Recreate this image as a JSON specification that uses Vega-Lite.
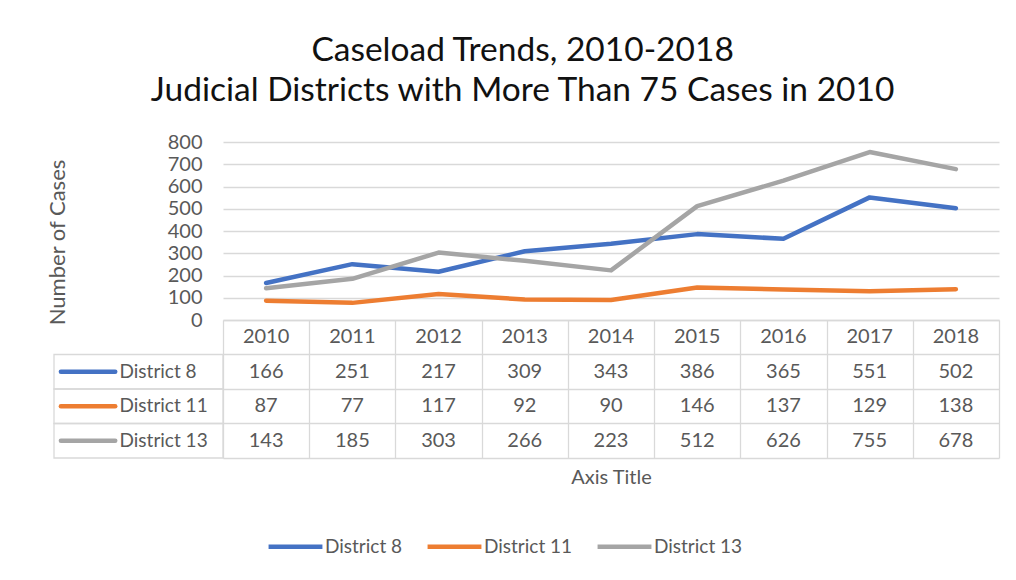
{
  "$schema": "https://vega.github.io/schema/vega-lite/v6.json",
  "padding": {"left": 46, "top": 33, "right": 10, "bottom": 10},
  "background": "white",
  "bounds": "flush",
  "title": {
    "text": ["Caseload Trends, 2010-2018", "Judicial Districts with More Than 75 Cases in 2010"],
    "font": "Lato", "fontSize": 33.5, "fontWeight": "normal", "color": "#111111",
    "lineHeight": 40, "anchor": "middle", "offset": 24
  },
  "config": {
    "font": "Lato",
    "view": {"stroke": null},
    "concat": {"spacing": 0}
  },
  "datasets": {
    "cases": [
      {"series": "District 8", "year": 2010, "cases": 166},
      {"series": "District 8", "year": 2011, "cases": 251},
      {"series": "District 8", "year": 2012, "cases": 217},
      {"series": "District 8", "year": 2013, "cases": 309},
      {"series": "District 8", "year": 2014, "cases": 343},
      {"series": "District 8", "year": 2015, "cases": 386},
      {"series": "District 8", "year": 2016, "cases": 365},
      {"series": "District 8", "year": 2017, "cases": 551},
      {"series": "District 8", "year": 2018, "cases": 502},
      {"series": "District 11", "year": 2010, "cases": 87},
      {"series": "District 11", "year": 2011, "cases": 77},
      {"series": "District 11", "year": 2012, "cases": 117},
      {"series": "District 11", "year": 2013, "cases": 92},
      {"series": "District 11", "year": 2014, "cases": 90},
      {"series": "District 11", "year": 2015, "cases": 146},
      {"series": "District 11", "year": 2016, "cases": 137},
      {"series": "District 11", "year": 2017, "cases": 129},
      {"series": "District 11", "year": 2018, "cases": 138},
      {"series": "District 13", "year": 2010, "cases": 143},
      {"series": "District 13", "year": 2011, "cases": 185},
      {"series": "District 13", "year": 2012, "cases": 303},
      {"series": "District 13", "year": 2013, "cases": 266},
      {"series": "District 13", "year": 2014, "cases": 223},
      {"series": "District 13", "year": 2015, "cases": 512},
      {"series": "District 13", "year": 2016, "cases": 626},
      {"series": "District 13", "year": 2017, "cases": 755},
      {"series": "District 13", "year": 2018, "cases": 678}
    ]
  },
  "vconcat": [
    {
      "width": 776,
      "height": 178,
      "data": {"name": "cases"},
      "mark": {"type": "line", "strokeWidth": 4.5, "strokeCap": "round", "strokeJoin": "round"},
      "encoding": {
        "x": {"field": "year", "type": "ordinal", "scale": {"type": "point", "padding": 0.5}, "axis": null},
        "y": {
          "field": "cases", "type": "quantitative",
          "scale": {"domain": [0, 800]},
          "axis": {
            "values": [0, 100, 200, 300, 400, 500, 600, 700, 800],
            "grid": true, "gridColor": "#d9d9d9", "gridWidth": 1.3,
            "domain": false, "ticks": false,
            "labelFontSize": 20, "labelColor": "#595959", "labelPadding": 21,
            "title": "Number of Cases", "titleFontSize": 22, "titleFontWeight": "normal",
            "titleColor": "#595959", "titlePadding": 98, "titleY": 100
          }
        },
        "color": {
          "field": "series", "type": "nominal",
          "scale": {"domain": ["District 8", "District 11", "District 13"], "range": ["#4472c4", "#ed7d31", "#a5a5a5"]},
          "legend": {
            "orient": "none", "legendX": 43, "legendY": 375,
            "direction": "horizontal", "title": null,
            "symbolType": "stroke", "symbolStrokeWidth": 4.5, "symbolSize": 2900,
            "labelFontSize": 19, "labelColor": "#595959", "labelOffset": 0,
            "columnPadding": 15
          }
        }
      }
    },
    {
      "width": 776,
      "height": 138,
      "data": {"name": "cases"},
      "encoding": {
        "y": {
          "field": "series", "type": "nominal",
          "scale": {"type": "band", "domain": ["Year", "District 8", "District 11", "District 13"], "paddingInner": 0, "paddingOuter": 0},
          "axis": {"labels": false, "ticks": false, "domain": false, "title": null, "grid": true, "gridColor": "#d9d9d9", "gridWidth": 1.3, "bandPosition": 0}
        }
      },
      "layer": [
        {
          "mark": {"type": "text", "fontSize": 20, "color": "#595959"},
          "encoding": {
            "x": {
              "field": "year", "type": "quantitative",
              "scale": {"domain": [2009.5, 2018.5], "nice": false, "zero": false},
              "axis": {
                "values": [2009.5, 2010.5, 2011.5, 2012.5, 2013.5, 2014.5, 2015.5, 2016.5, 2017.5, 2018.5],
                "grid": true, "gridColor": "#d9d9d9", "gridWidth": 1.3,
                "labels": false, "ticks": false,
                "domain": true, "domainColor": "#d9d9d9", "domainWidth": 1.3,
                "title": "Axis Title", "titleFontSize": 20, "titleFontWeight": "normal",
                "titleColor": "#595959", "titlePadding": 9
              }
            },
            "text": {"field": "cases", "type": "quantitative"}
          }
        },
        {
          "transform": [{"filter": "datum.series === 'District 8'"}],
          "mark": {"type": "text", "fontSize": 20, "color": "#595959"},
          "encoding": {
            "x": {"field": "year", "type": "quantitative"},
            "y": {"datum": "Year"},
            "text": {"field": "year", "type": "nominal"}
          }
        },
        {
          "transform": [{"filter": "datum.year === 2010"}],
          "mark": {"type": "bar", "filled": false, "stroke": "#d9d9d9", "strokeWidth": 1.3},
          "encoding": {
            "x": {"datum": 2007.54},
            "x2": {"datum": 2009.5}
          }
        },
        {
          "transform": [{"filter": "datum.year === 2010"}],
          "mark": {"type": "rule", "strokeWidth": 4.5, "strokeCap": "round"},
          "encoding": {
            "x": {"datum": 2007.62},
            "x2": {"datum": 2008.25},
            "color": {"field": "series", "type": "nominal"}
          }
        },
        {
          "transform": [{"filter": "datum.year === 2010"}],
          "mark": {"type": "text", "fontSize": 19, "color": "#595959", "align": "left"},
          "encoding": {
            "x": {"datum": 2008.3},
            "text": {"field": "series", "type": "nominal"}
          }
        }
      ]
    }
  ]
}
